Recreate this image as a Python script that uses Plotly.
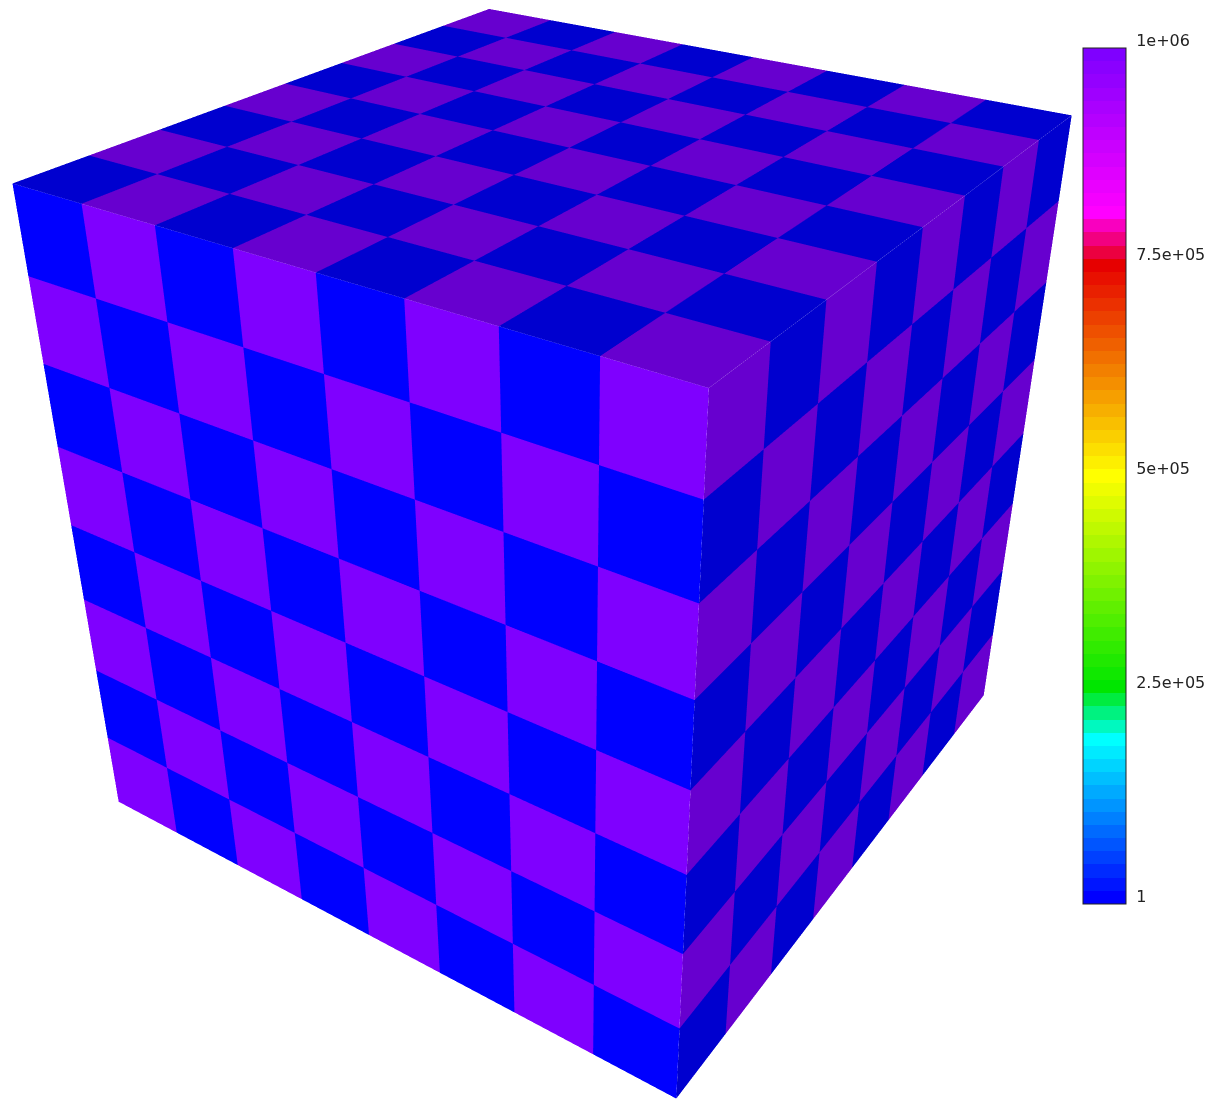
import plotly.graph_objects as go

# Cell values read from the three visible faces of the cube (top-left to bottom-right)
LOW = 1
HIGH = 1000000
ROW_A = [LOW, HIGH, LOW, HIGH, LOW, HIGH, LOW, HIGH]
ROW_B = [HIGH, LOW, HIGH, LOW, HIGH, LOW, HIGH, LOW]
LEFT_FACE = [ROW_A, ROW_B, ROW_A, ROW_B, ROW_A, ROW_B, ROW_A, ROW_B]
RIGHT_FACE = [ROW_B, ROW_A, ROW_B, ROW_A, ROW_B, ROW_A, ROW_B, ROW_A]
TOP_FACE = [ROW_B, ROW_A, ROW_B, ROW_A, ROW_B, ROW_A, ROW_B, ROW_A]

TICK_VALUES = [1, 250000, 500000, 750000, 1000000]
TICK_LABELS = ["1", "2.5e+05", "5e+05", "7.5e+05", "1e+06"]

# Colour-scale anchors: band index, rgb
BAND_COUNT = 65
ANCHORS = [
    (0, (0, 0, 255)), (12, (0, 255, 255)), (16, (0, 230, 0)), (32, (255, 255, 0)),
    (48, (230, 0, 0)), (52, (255, 0, 255)), (64, (127, 0, 255)),
]
LIT_FACE = 1.0
SHADED_FACE = 0.81


def band_colour(i):
    for (a, ca), (b, cb) in zip(ANCHORS, ANCHORS[1:]):
        if a <= i <= b:
            t = (i - a) / (b - a)
            return "rgb(%d,%d,%d)" % tuple(round(u + (v - u) * t) for u, v in zip(ca, cb))


colorscale = []
for n in range(BAND_COUNT):
    colorscale.append([n / BAND_COUNT, band_colour(n)])
    colorscale.append([(n + 1) / BAND_COUNT, band_colour(n)])


def left_corners(r, c):
    return [(7 - c, 8, 7 - r), (8 - c, 8, 7 - r), (8 - c, 8, 8 - r), (7 - c, 8, 8 - r)]


def right_corners(r, c):
    return [(0, 7 - c, 7 - r), (0, 8 - c, 7 - r), (0, 8 - c, 8 - r), (0, 7 - c, 8 - r)]


def top_corners(r, c):
    return [(c, 7 - r, 8), (c + 1, 7 - r, 8), (c + 1, 8 - r, 8), (c, 8 - r, 8)]


FIG_W, FIG_H = 1210, 1412
SHIFT_UP = 229
colorbar = dict(
    thicknessmode="pixels", thickness=43, lenmode="pixels", len=856,
    x=1083 / FIG_W, xanchor="left", xpad=0,
    y=1 - (48 + SHIFT_UP) / FIG_H, yanchor="top", ypad=0,
    tickmode="array", tickvals=TICK_VALUES, ticktext=TICK_LABELS,
    ticks="", ticklabelposition="outside top",
    tickfont=dict(family="DejaVu Sans", size=16, color="#222222"),
    outlinecolor="#222222", outlinewidth=1,
)


def face_trace(rows, corners_of, shade, show_bar):
    xs, ys, zs, ti, tj, tk, cell_values = [], [], [], [], [], [], []
    for r, row in enumerate(rows):
        for c, value in enumerate(row):
            base = len(xs)
            for x, y, z in corners_of(r, c):
                xs.append(x); ys.append(y); zs.append(z)
            ti.extend([base, base]); tj.extend([base + 2, base + 3]); tk.extend([base + 1, base + 2])
            cell_values.extend([value, value])
    return go.Mesh3d(
        x=xs, y=ys, z=zs, i=ti, j=tj, k=tk,
        intensity=cell_values, intensitymode="cell",
        colorscale=colorscale, cmin=1, cmax=1000000, flatshading=True,
        lighting=dict(ambient=shade, diffuse=0, specular=0, fresnel=0),
        hoverinfo="skip", showscale=show_bar, colorbar=colorbar,
    )


fig = go.Figure([
    face_trace(LEFT_FACE, left_corners, LIT_FACE, True),
    face_trace(RIGHT_FACE, right_corners, SHADED_FACE, False),
    face_trace(TOP_FACE, top_corners, SHADED_FACE, False),
])
hidden = dict(visible=False, range=[0, 8], autorange=False)
fig.update_layout(
    width=FIG_W, height=FIG_H, margin=dict(l=0, r=0, t=0, b=0, pad=0),
    paper_bgcolor="white", showlegend=False, autosize=False,
    scene=dict(
        domain=dict(x=[0, 1139 / FIG_W], y=[0, 1]),
        xaxis=hidden, yaxis=hidden, zaxis=hidden,
        aspectmode="cube", bgcolor="white",
        camera=dict(eye=dict(x=-1.208, y=1.786, z=1.246), center=dict(x=0, y=0, z=0), up=dict(x=0, y=0, z=1)),
    ),
)
fig.write_html("out.html", config=dict(displayModeBar=False), post_script=(
    "document.body.style.margin='0';document.documentElement.style.overflow='hidden';"
    "document.querySelector('.plotly-graph-div').style.marginTop='-%dpx';"
    "function nudge(){document.querySelectorAll('.colorbar text').forEach(function(t){t.setAttribute('dy','4');t.setAttribute('dx','6');});}"
    "nudge();setTimeout(nudge,200);" % SHIFT_UP
))
